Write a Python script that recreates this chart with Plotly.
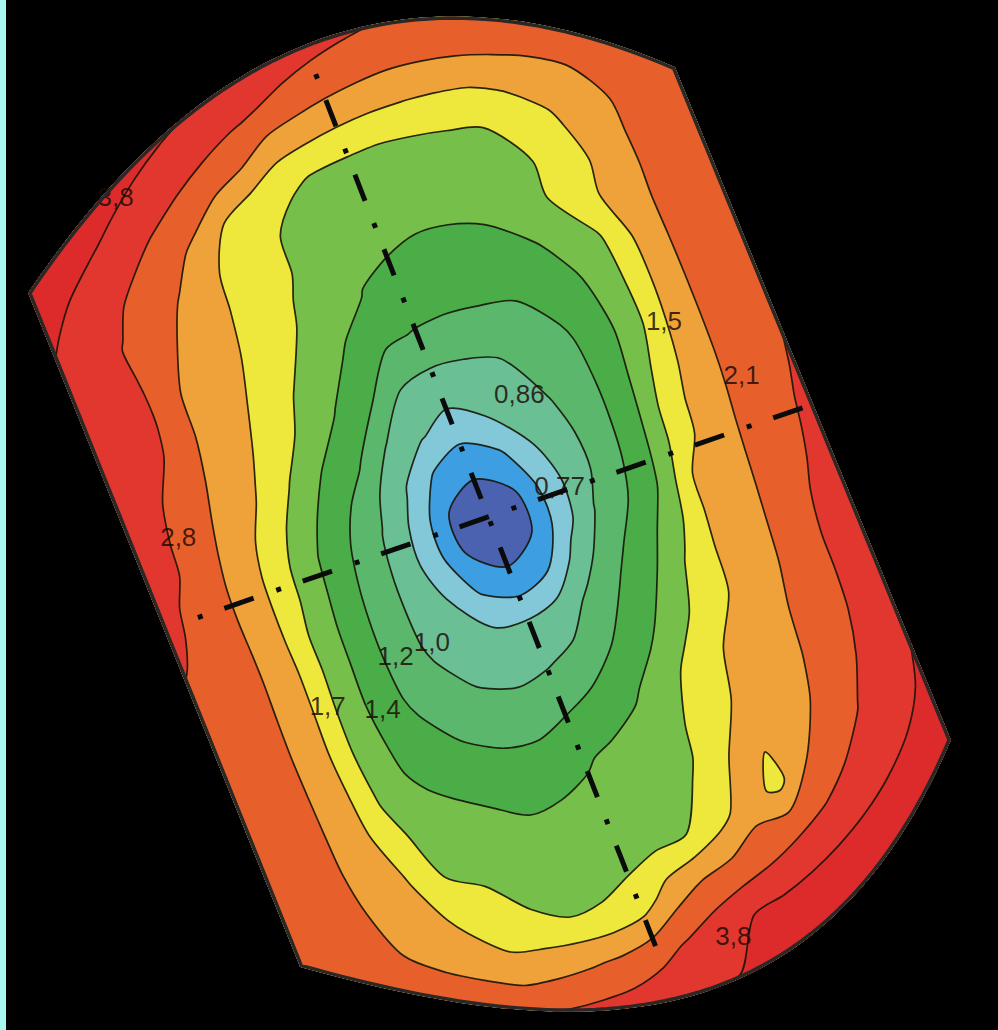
import numpy as np
import plotly.graph_objects as go

# ---------------------------------------------------------------------------
# Sheet parameter grid: a runs across the sheet (left edge -> right edge),
# b runs along it (upper arc -> lower arc).
# ---------------------------------------------------------------------------
a_nodes = [0.00, 0.05, 0.10, 0.15, 0.20, 0.25, 0.30, 0.35, 0.40, 0.45, 0.50,
           0.55, 0.60, 0.65, 0.70, 0.75, 0.80, 0.85, 0.90, 0.95, 1.00]
b_nodes = [0.00, 0.04, 0.08, 0.12, 0.16, 0.20, 0.25, 0.30, 0.35, 0.40, 0.44,
           0.48, 0.52, 0.56, 0.60, 0.65, 0.70, 0.75, 0.80, 0.85, 0.90, 0.95, 1.00]

# Measured value at every grid node, one row per b node (columns follow a_nodes)
thickness = [
    [4.40, 4.30, 4.20, 4.10, 4.00, 3.90, 3.80, 3.63, 3.47, 3.30, 3.13, 2.97, 2.80, 2.69, 2.58, 2.46, 2.35, 2.39, 2.43, 2.46, 2.50],
    [4.05, 3.95, 3.85, 3.68, 3.48, 3.28, 3.08, 2.88, 2.75, 2.60, 2.47, 2.35, 2.24, 2.19, 2.15, 2.13, 2.12, 2.14, 2.20, 2.28, 2.35],
    [3.90, 3.65, 3.35, 3.04, 2.76, 2.54, 2.32, 2.10, 1.88, 1.83, 1.78, 1.74, 1.71, 1.69, 1.68, 1.72, 1.78, 1.98, 2.15, 2.27, 2.40],
    [3.70, 3.33, 2.95, 2.63, 2.33, 2.02, 1.68, 1.60, 1.52, 1.495, 1.49, 1.485, 1.49, 1.495, 1.50, 1.58, 1.67, 1.89, 2.15, 2.30, 2.45],
    [3.47, 3.12, 2.77, 2.42, 2.07, 1.77, 1.62, 1.52, 1.48, 1.46, 1.455, 1.45, 1.45, 1.465, 1.48, 1.50, 1.62, 1.82, 2.14, 2.32, 2.50],
    [3.45, 3.12, 2.79, 2.27, 1.95, 1.74, 1.62, 1.52, 1.47, 1.43, 1.42, 1.41, 1.41, 1.42, 1.46, 1.50, 1.63, 1.86, 2.15, 2.35, 2.55],
    [3.40, 3.11, 2.82, 2.09, 1.90, 1.70, 1.59, 1.49, 1.44, 1.39, 1.35, 1.32, 1.32, 1.33, 1.37, 1.43, 1.49, 1.74, 2.15, 2.37, 2.60],
    [3.35, 3.07, 2.77, 2.07, 1.85, 1.66, 1.52, 1.45, 1.36, 1.23, 1.19, 1.18, 1.185, 1.195, 1.26, 1.37, 1.47, 1.71, 2.14, 2.40, 2.65],
    [3.30, 2.99, 2.52, 2.01, 1.78, 1.60, 1.47, 1.38, 1.22, 0.99, 0.96, 0.97, 1.00, 1.09, 1.17, 1.315, 1.46, 1.74, 2.14, 2.44, 2.75],
    [3.20, 2.87, 2.33, 1.94, 1.68, 1.49, 1.38, 1.24, 0.98, 0.87, 0.82, 0.86, 0.93, 1.01, 1.14, 1.31, 1.50, 1.80, 2.15, 2.49, 2.83],
    [3.10, 2.81, 2.25, 1.86, 1.59, 1.43, 1.29, 1.07, 0.88, 0.76, 0.72, 0.76, 0.86, 0.97, 1.13, 1.33, 1.57, 1.87, 2.17, 2.54, 2.90],
    [3.05, 2.71, 2.18, 1.80, 1.52, 1.39, 1.19, 0.99, 0.83, 0.69, 0.63, 0.69, 0.82, 0.96, 1.14, 1.37, 1.60, 1.91, 2.21, 2.60, 3.00],
    [3.05, 2.62, 2.16, 1.78, 1.50, 1.36, 1.15, 0.97, 0.82, 0.695, 0.62, 0.69, 0.82, 1.01, 1.20, 1.41, 1.70, 1.94, 2.24, 2.66, 3.05],
    [2.90, 2.54, 2.17, 1.79, 1.48, 1.34, 1.13, 0.97, 0.86, 0.76, 0.72, 0.76, 0.92, 1.13, 1.30, 1.46, 1.74, 1.96, 2.27, 2.73, 3.10],
    [2.72, 2.44, 2.17, 1.81, 1.48, 1.33, 1.13, 0.98, 0.92, 0.86, 0.855, 0.91, 1.06, 1.23, 1.40, 1.53, 1.77, 1.98, 2.31, 2.81, 3.15],
    [2.55, 2.35, 2.15, 1.80, 1.47, 1.33, 1.16, 1.05, 0.99, 0.97, 0.99, 1.06, 1.20, 1.34, 1.46, 1.60, 1.78, 1.99, 2.41, 2.92, 3.25],
    [2.50, 2.32, 2.14, 1.78, 1.47, 1.37, 1.26, 1.18, 1.13, 1.12, 1.19, 1.27, 1.36, 1.45, 1.57, 1.71, 1.88, 2.06, 2.47, 2.92, 3.30],
    [2.48, 2.31, 2.15, 1.82, 1.49, 1.41, 1.375, 1.34, 1.31, 1.33, 1.38, 1.42, 1.45, 1.49, 1.62, 1.79, 1.94, 2.09, 2.52, 2.96, 3.40],
    [2.45, 2.30, 2.16, 1.88, 1.54, 1.47, 1.44, 1.425, 1.41, 1.42, 1.43, 1.45, 1.48, 1.51, 1.71, 1.75, 1.98, 2.17, 2.63, 3.11, 3.60],
    [2.42, 2.29, 2.16, 1.96, 1.68, 1.50, 1.49, 1.475, 1.465, 1.46, 1.47, 1.485, 1.50, 1.63, 1.90, 1.64, 2.10, 2.47, 2.85, 3.32, 3.80],
    [2.40, 2.29, 2.18, 2.04, 1.82, 1.66, 1.57, 1.515, 1.50, 1.52, 1.59, 1.92, 2.20, 2.34, 2.48, 2.63, 2.77, 3.04, 3.33, 3.62, 3.90],
    [2.40, 2.30, 2.20, 2.10, 2.00, 1.91, 1.82, 1.93, 2.04, 2.20, 2.55, 2.95, 3.42, 3.80, 3.83, 3.86, 3.89, 3.91, 3.94, 3.97, 4.00],
    [2.45, 2.47, 2.50, 2.52, 2.55, 2.65, 2.74, 2.89, 3.12, 3.35, 3.57, 3.80, 3.83, 3.87, 3.90, 3.93, 3.97, 4.00, 4.03, 4.07, 4.10],
]

# Contour levels and the fill colour of each band (lowest band first)
levels = [0.70, 0.77, 0.86, 1.0, 1.2, 1.4, 1.5, 1.7, 2.1, 2.8, 3.8]
band_colors = ["#4b62b0", "#3d9fe2", "#82c8d8", "#6abf95", "#5bb76c", "#4bad47",
               "#77bf4b", "#eee83c", "#efa23a", "#e7602b", "#e2372f", "#dd2a2a"]

# Labelled isolines: level and position on the sheet (a, b)
label_levels = [0.86, 0.77, 1.0, 1.2, 1.7, 1.4, 1.5, 2.1, 2.8, 3.8, 3.8]
label_a = [0.606, 0.612, 0.356, 0.299, 0.180, 0.253, 0.842, 0.918, 0.068, 0.165, 0.609]
label_b = [0.391, 0.489, 0.600, 0.606, 0.645, 0.659, 0.354, 0.437, 0.399, 0.016, 0.962]

# ---------------------------------------------------------------------------
# Sheet outline in page pixels: straight long sides, arced short sides
# ---------------------------------------------------------------------------
TL, TR = np.array([28.0, 293.0]), np.array([675.0, 67.0])
BL, BR = np.array([300.0, 967.0]), np.array([951.0, 740.0])
N_TOP = np.array([-0.330, -0.9445])
N_BOT = np.array([0.329, 0.945])


def upper_arc(a):
    bulge = 4 * a * (1 - a) * (128 + 30 * a)
    return TL + a * (TR - TL) + bulge * N_TOP


def lower_arc(a):
    bulge = 4 * a * (1 - a) * (120 + 70 * a)
    return BL + a * (BR - BL) + bulge * N_BOT


grid_x = []
grid_y = []
for b in b_nodes:
    row_x, row_y = [], []
    for a in a_nodes:
        p = upper_arc(a) + b * (lower_arc(a) - upper_arc(a))
        row_x.append(float(p[0]))
        row_y.append(float(p[1]))
    grid_x.append(row_x)
    grid_y.append(row_y)

# Non-uniform levels -> evenly spaced level index for the contour engine
idx_x = [0.55] + levels + [4.8]
idx_y = list(range(len(idx_x)))
z_index = np.interp(np.array(thickness), idx_x, idx_y)

n_lev = len(levels)
colorscale = [[k / n_lev, c] for k, c in enumerate(band_colors)]


def level_text(v):
    s = f"{v:.2f}".rstrip("0")
    if s.endswith("."):
        s += "0"
    return s.replace(".", ",")


hidden_axis = dict(showgrid=False, showline=False, showticklabels="none",
                   startline=False, endline=False, minorgridcount=0,
                   color="rgba(0,0,0,0)")

fig = go.Figure()

fig.add_trace(go.Carpet(
    carpet="sheet", a=a_nodes, b=b_nodes, x=grid_x, y=grid_y,
    aaxis=hidden_axis, baxis=hidden_axis,
))

fig.add_trace(go.Contourcarpet(
    carpet="sheet", a=a_nodes, b=b_nodes, z=z_index.tolist(),
    autocontour=False,
    contours=dict(start=1, end=n_lev, size=1, coloring="fill", showlines=True),
    colorscale=colorscale, showscale=False,
    line=dict(color="rgba(22,20,8,0.9)", width=1.7, smoothing=0.85),
))

fig.add_trace(go.Scattercarpet(
    carpet="sheet", a=label_a, b=label_b, mode="text",
    text=[level_text(v) for v in label_levels],
    textfont=dict(family="Liberation Sans, Arial, sans-serif", size=26,
                  color="rgba(28,10,6,0.82)"),
    hoverinfo="skip",
))

# Dash-dot section lines along and across the sheet
fig.add_trace(go.Scattercarpet(
    carpet="sheet", a=[0.5, 0.5], b=[0.0305, 0.955], mode="lines",
    line=dict(color="#0b0b0b", width=5, dash="5px,23px,28px,24px"),
    hoverinfo="skip",
))
fig.add_trace(go.Scattercarpet(
    carpet="sheet", a=[0.0525, 0.99], b=[0.5, 0.5], mode="lines",
    line=dict(color="#0b0b0b", width=5, dash="5px,23px,31px,24px"),
    hoverinfo="skip",
))

# Outline of the sheet
t = np.linspace(0, 1, 61)
edge_a = np.concatenate([t, np.ones_like(t), t[::-1], np.zeros_like(t)])
edge_b = np.concatenate([np.zeros_like(t), t, np.ones_like(t), t[::-1]])
fig.add_trace(go.Scattercarpet(
    carpet="sheet", a=edge_a.tolist(), b=edge_b.tolist(), mode="lines",
    line=dict(color="#2b2727", width=7),
    hoverinfo="skip",
))

fig.update_layout(
    width=998, height=1030,
    margin=dict(l=0, r=0, t=0, b=0),
    paper_bgcolor="#000000", plot_bgcolor="#000000",
    showlegend=False,
    xaxis=dict(range=[0, 998], visible=False, fixedrange=True),
    yaxis=dict(range=[1030, 0], visible=False, fixedrange=True),
    shapes=[dict(type="rect", xref="paper", yref="paper", x0=0, x1=6 / 998,
                 y0=0, y1=1, fillcolor="#a8f7f0", line=dict(width=0),
                 layer="above")],
)

fig.write_html("out.html")
